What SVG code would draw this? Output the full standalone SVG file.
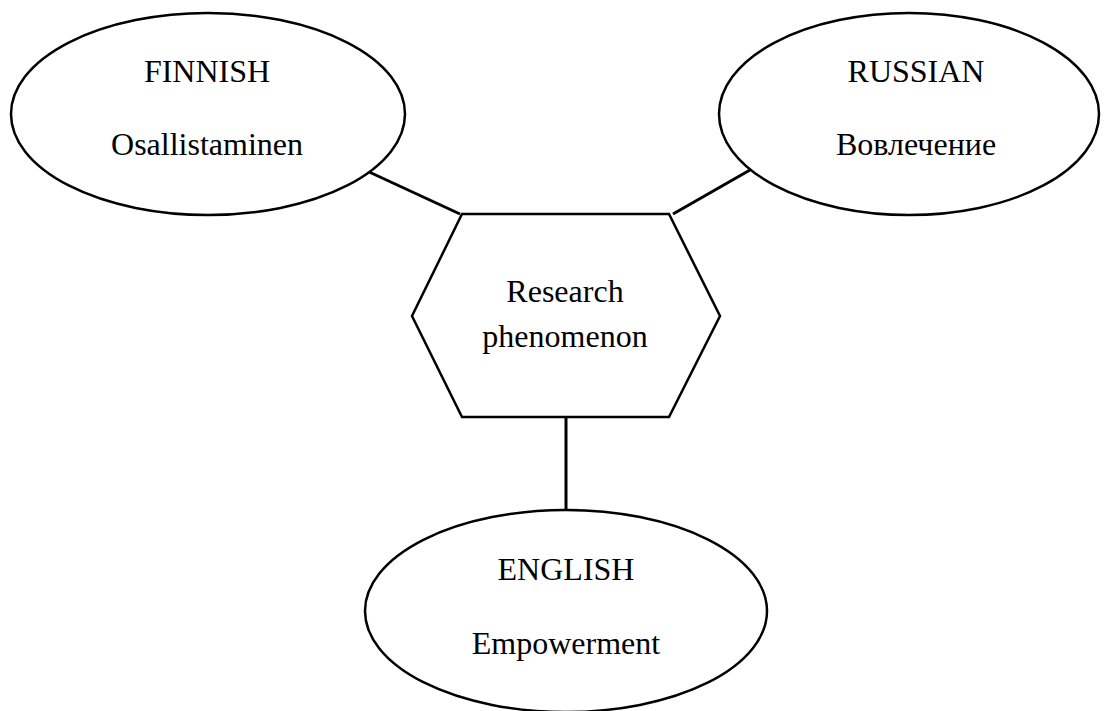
<svg xmlns="http://www.w3.org/2000/svg" width="1107" height="711" viewBox="0 0 1107 711">
<style>
.shape{fill:#fff;stroke:#000;stroke-width:2.5}
.conn line{stroke:#000;stroke-width:3}
text{font-family:"Liberation Serif","Times New Roman",serif;font-size:32px;fill:#000;text-anchor:middle}
</style>
<rect width="1107" height="711" fill="#fff"/>
<g id="connectors" class="conn">
<line x1="367" y1="171" x2="460" y2="214"/>
<line x1="750" y1="170" x2="673" y2="214"/>
<line x1="566" y1="417" x2="566" y2="509"/>
</g>
<g id="finnish">
<ellipse class="shape" cx="208" cy="114" rx="197" ry="101"/>
<text x="207" y="82">FINNISH</text>
<text x="207" y="155">Osallistaminen</text>
</g>
<g id="russian">
<ellipse class="shape" cx="909" cy="114" rx="190" ry="101"/>
<text x="916" y="82">RUSSIAN</text>
<text x="916" y="155">Вовлечение</text>
</g>
<g id="research">
<polygon class="shape" points="462,214 669,214 720,316 669,417 462,417 412,316"/>
<text x="565" y="302">Research</text>
<text x="565" y="347">phenomenon</text>
</g>
<g id="english">
<ellipse class="shape" cx="566" cy="611" rx="201" ry="101"/>
<text x="566" y="580">ENGLISH</text>
<text x="566" y="654">Empowerment</text>
</g>
</svg>
